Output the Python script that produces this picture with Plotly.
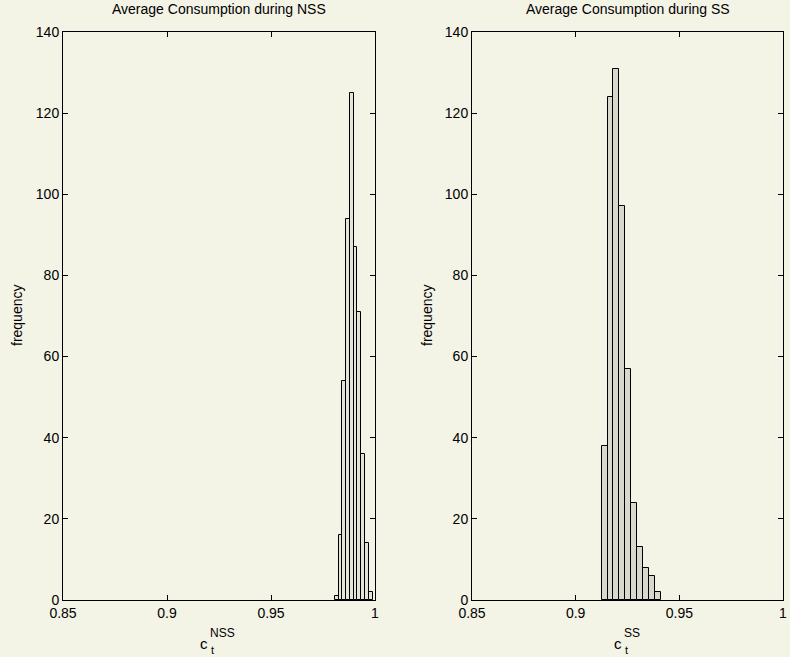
import plotly.graph_objects as go

# NSS histogram (10 bins)
nss_start = 0.9807
nss_binw = 0.00181
nss_counts = [1, 16, 54, 94, 125, 87, 71, 36, 14, 2]

# SS histogram (10 bins)
ss_start = 0.9125
ss_binw = 0.00287
ss_counts = [38, 124, 131, 97, 57, 24, 13, 8, 6, 2]

x_ticks = [0.85, 0.9, 0.95, 1.0]
x_ticklabels = ["0.85", "0.9", "0.95", "1"]
y_ticks = [0, 20, 40, 60, 80, 100, 120, 140]

titles = ["Average Consumption during NSS", "Average Consumption during SS"]
sups = ["NSS", "SS"]

bg = "#f3f3e6"
font = "Liberation Sans, Arial, Helvetica, sans-serif"

nss_centers = [nss_start + nss_binw * (i + 0.5) for i in range(len(nss_counts))]
ss_centers = [ss_start + ss_binw * (i + 0.5) for i in range(len(ss_counts))]

fig = go.Figure()
fig.add_trace(go.Bar(x=nss_centers, y=nss_counts, width=[nss_binw] * len(nss_counts),
                     marker=dict(color="#e4e4d8", line=dict(color="black", width=1)),
                     xaxis="x", yaxis="y", showlegend=False))
fig.add_trace(go.Bar(x=ss_centers, y=ss_counts, width=[ss_binw] * len(ss_counts),
                     marker=dict(color="#d8d8cc", line=dict(color="black", width=1)),
                     xaxis="x2", yaxis="y2", showlegend=False))

axis_common = dict(showline=True, linecolor="black", linewidth=1, mirror="ticks",
                   ticks="inside", ticklen=5, tickcolor="black", showgrid=False,
                   zeroline=False, automargin=False, ticklabeloverflow="allow",
                   tickfont=dict(size=14, color="black", family=font))

L0, L1 = 0.0, 312 / 720
R0, R1 = 409 / 720, 1.0

fig.update_layout(
    width=790, height=657,
    paper_bgcolor=bg, plot_bgcolor=bg,
    margin=dict(l=63, r=7, t=32, b=57, autoexpand=False),
    font=dict(family=font, color="black", size=14),
    bargap=0,
    xaxis=dict(domain=[L0, L1], range=[0.85, 1.0], tickvals=x_ticks, ticktext=x_ticklabels,
               anchor="y", **axis_common),
    yaxis=dict(domain=[0, 1], range=[0, 140], tickvals=y_ticks, anchor="x", **axis_common),
    xaxis2=dict(domain=[R0, R1], range=[0.85, 1.0], tickvals=x_ticks, ticktext=x_ticklabels,
                anchor="y2", **axis_common),
    yaxis2=dict(domain=[0, 1], range=[0, 140], tickvals=y_ticks, anchor="x2", **axis_common),
)

annotations = []
c_shift = [-9, -4]
for i, (d0, d1) in enumerate([(L0, L1), (R0, R1)]):
    xc = (d0 + d1) / 2
    annotations.append(dict(text=titles[i], x=xc, y=1, xref="paper", yref="paper",
                            yanchor="bottom", xanchor="center", yshift=13, showarrow=False,
                            font=dict(size=14)))
    annotations.append(dict(text="frequency", x=d0, y=0.5, xref="paper", yref="paper",
                            xanchor="center", yanchor="middle", textangle=-90,
                            xshift=-46 if i == 0 else -45, showarrow=False,
                            font=dict(size=14)))
    # x-axis label: c with subscript t and superscript
    annotations.append(dict(text="c", x=xc, y=0, xref="paper", yref="paper",
                            xanchor="right", yanchor="middle", yshift=-43, xshift=c_shift[i],
                            showarrow=False, font=dict(size=15)))
    annotations.append(dict(text=sups[i], x=xc, y=0, xref="paper", yref="paper",
                            xanchor="left", yanchor="middle", yshift=-33, xshift=c_shift[i] - 2,
                            showarrow=False, font=dict(size=12)))
    annotations.append(dict(text="t", x=xc, y=0, xref="paper", yref="paper",
                            xanchor="left", yanchor="middle", yshift=-50, xshift=c_shift[i] - 1,
                            showarrow=False, font=dict(size=11)))
fig.update_layout(annotations=annotations)

fig.write_html("out.html", config={"displayModeBar": False},
               post_script="document.body.style.margin='0';document.body.style.background='%s';" % bg)
